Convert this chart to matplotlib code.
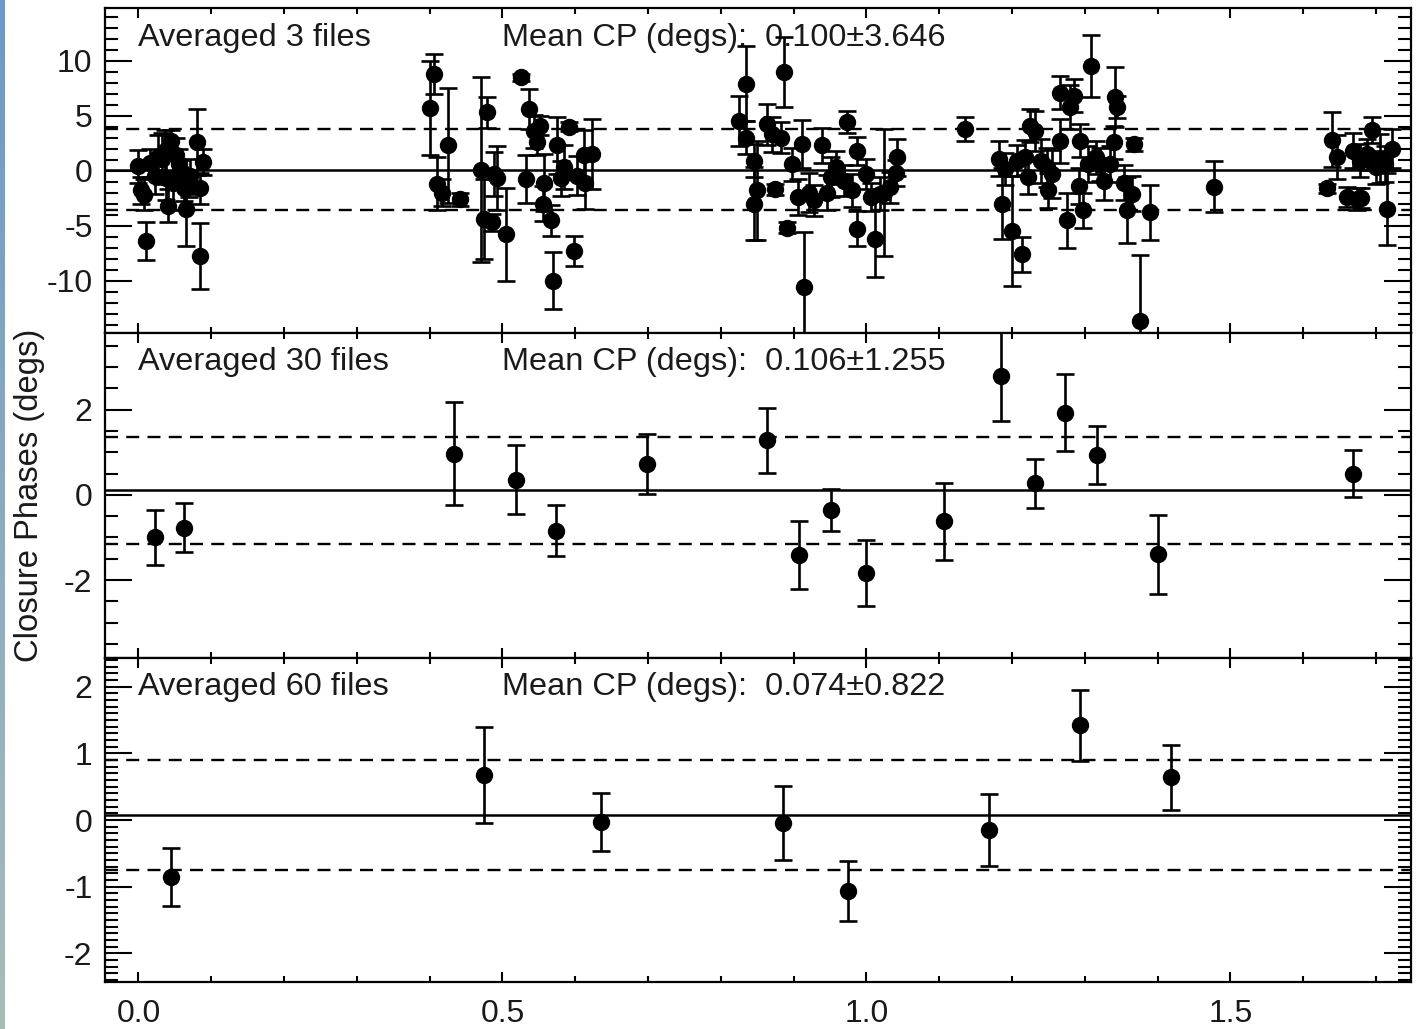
import numpy as np
import matplotlib
matplotlib.use("Agg")
import matplotlib.pyplot as plt
from matplotlib.ticker import MultipleLocator, FormatStrFormatter

plt.rcParams['font.family'] = ['Liberation Sans', 'DejaVu Sans']
plt.rcParams['axes.unicode_minus'] = False

# ---- closure phases, averaged over 3 files ----
x3 = [0.000, 0.004, 0.008, 0.011, 0.016, 0.022, 0.027, 0.032, 0.036, 0.038, 0.040, 0.044,
      0.047, 0.051, 0.055, 0.058, 0.062, 0.065, 0.069, 0.071, 0.080, 0.084, 0.089, 0.085,
      0.406, 0.401, 0.425, 0.410, 0.417, 0.442, 0.470, 0.479, 0.488, 0.474, 0.493, 0.505,
      0.486, 0.525, 0.536, 0.532, 0.543, 0.552, 0.548, 0.557, 0.556, 0.566, 0.569, 0.575,
      0.592, 0.584, 0.598, 0.580, 0.612, 0.623, 0.614, 0.603,
      0.834, 0.887, 0.825, 0.834, 0.845, 0.850, 0.845, 0.864, 0.870, 0.882, 0.875, 0.891,
      0.898, 0.911, 0.914, 0.906, 0.921, 0.928, 0.939, 0.951, 0.958, 0.946, 0.973, 0.969,
      0.987, 0.980, 0.987, 1.000, 1.012, 1.024, 1.033, 1.042, 1.018, 1.006, 1.040,
      1.135,
      1.182, 1.186, 1.200, 1.214, 1.190, 1.207, 1.218, 1.225, 1.222, 1.232, 1.240, 1.248,
      1.255, 1.250, 1.266, 1.266, 1.275, 1.280, 1.285, 1.294, 1.292, 1.298, 1.308, 1.304,
      1.315, 1.326, 1.321, 1.340, 1.342, 1.344, 1.335, 1.354, 1.365, 1.358, 1.367, 1.376,
      1.390, 1.477,
      1.639, 1.632, 1.647, 1.695, 1.660, 1.674, 1.680, 1.669, 1.678, 1.688, 1.706, 1.715,
      1.722, 1.712, 1.700]
y3 = [0.4, -1.8, -2.2, -6.4, 0.7, -0.5, 1.2, 1.1, 1.8, -0.7, -3.2, 2.7,
      -1.1, 1.4, 0.6, 0.0, -1.6, -3.5, -1.4, -0.5, 2.6, -7.8, 0.8, -1.6,
      8.8, 5.7, 2.3, -1.2, -2.0, -2.6, 0.1, 5.3, -0.3, -4.4, -0.7, -5.8,
      -4.7, 8.5, 5.6, -0.75, 3.6, 4.1, 2.6, -1.1, -3.0, -4.5, -10.0, 2.3,
      4.0, 0.3, -7.3, -0.7, 1.4, 1.5, -1.1, -0.45,
      7.9, 9.0, 4.5, 3.0, 0.9, -1.8, -3.0, 4.2, 3.3, 3.0, -1.7, -5.2,
      0.6, 2.4, -10.6, -2.4, -2.0, -2.7, 2.3, -0.6, 0.3, -2.0, 4.4, -0.9,
      1.8, -1.8, -5.3, -0.3, -6.2, -2.0, -1.5, 1.2, -2.1, -2.4, -0.2,
      3.8,
      1.1, -3.0, -5.5, -7.6, 0.15, 0.9, 1.2, 4.1, -0.6, 3.6, 0.9, 0.3,
      -0.3, -1.8, 7.1, 2.7, -4.5, 5.8, 6.8, 2.7, -1.4, -3.6, 9.5, 0.6,
      1.2, -0.9, 0.6, 2.6, 6.7, 5.8, 0.6, -1.1, -2.1, -3.6, 2.4, -13.7,
      -3.8, -1.45,
      2.8, -1.6, 1.2, 3.7, -2.4, -2.6, -2.5, 1.8, 0.9, 1.5, 1.1, -3.5,
      2.0, 0.6, 0.3]
e3 = [1.5, 1.2, 1.4, 1.7, 1.3, 1.6, 2.0, 2.3, 1.9, 2.0, 1.5, 1.0,
      2.5, 1.6, 1.4, 1.0, 1.2, 3.4, 1.0, 1.6, 3.0, 3.0, 1.2, 1.4,
      1.8, 4.3, 5.2, 2.4, 1.2, 0.6, 8.4, 1.4, 2.0, 3.6, 2.9, 4.2,
      0.8, 0.3, 1.8, 2.2, 1.5, 0.9, 1.2, 2.6, 1.6, 1.4, 2.6, 2.6,
      0.4, 2.0, 1.4, 1.6, 2.3, 3.2, 2.4, 1.8,
      3.4, 3.2, 2.3, 1.5, 1.5, 4.5, 3.3, 1.9, 1.6, 1.4, 0.5, 0.5,
      1.5, 2.2, 5.0, 1.6, 1.8, 1.4, 1.6, 1.8, 1.5, 1.6, 1.0, 1.4,
      1.3, 1.5, 1.6, 1.4, 3.5, 5.8, 1.4, 1.7, 1.5, 1.3, 1.2,
      1.1,
      1.6, 3.2, 5.0, 1.6, 1.5, 1.4, 1.6, 1.5, 1.5, 1.8, 2.0, 1.8,
      2.2, 1.6, 1.5, 2.0, 2.5, 2.0, 1.5, 1.5, 1.6, 1.6, 2.8, 1.6,
      1.5, 1.8, 1.5, 1.5, 2.7, 1.0, 1.6, 1.6, 1.6, 3.0, 0.6, 6.0,
      2.5, 2.35,
      2.5, 0.4, 2.0, 1.2, 0.9, 1.0, 0.9, 1.6, 1.5, 1.4, 2.2, 3.3,
      1.8, 1.6, 1.5]

# ---- averaged over 30 files ----
x30 = [0.022, 0.062, 0.433, 0.519, 0.574, 0.698, 0.863, 0.907, 0.951, 1.000,
       1.106, 1.185, 1.231, 1.273, 1.317, 1.400, 1.669]
y30 = [-1.00, -0.77, 0.97, 0.36, -0.84, 0.72, 1.28, -1.42, -0.36, -1.83,
       -0.62, 2.78, 0.27, 1.93, 0.93, -1.40, 0.50]
e30 = [0.64, 0.57, 1.20, 0.80, 0.60, 0.70, 0.77, 0.80, 0.49, 0.77,
       0.90, 1.05, 0.58, 0.90, 0.68, 0.92, 0.56]

# ---- averaged over 60 files ----
x60 = [0.044, 0.475, 0.636, 0.885, 0.975, 1.168, 1.294, 1.418]
y60 = [-0.855, 0.675, -0.03, -0.045, -1.065, -0.15, 1.42, 0.64]
e60 = [0.435, 0.72, 0.44, 0.55, 0.45, 0.54, 0.53, 0.49]

n_files = [3, 30, 60]
mean_cp = [0.100, 0.106, 0.074]
std_cp = [3.646, 1.255, 0.822]
y_limits = [(-14.77, 14.77), (-3.83, 3.80), (-2.43, 2.43)]
y_major = [5, 2, 1]
y_minor = [1, 0.5, 0.1]
x_limits = (-0.046, 1.748)

W, H = 1419, 1029
fig = plt.figure(figsize=(W / 100, H / 100), dpi=100)
fig.patch.set_facecolor('white')

# slide-background strip at the left edge
strip = fig.add_axes([0, 0, 5 / W, 1])
grad = np.linspace(0, 1, 256)[:, None, None]
top_c = np.array([0.42, 0.60, 0.80])
bot_c = np.array([0.66, 0.74, 0.72])
strip.imshow(top_c * (1 - grad) + bot_c * grad, aspect='auto', extent=(0, 1, 0, 1))
strip.set_axis_off()

left, right = 105 / W, 1411 / W
edges = [8.3, 333, 658, 982]
txt_col = '#1a1a1a'
fs = 23.4

datasets = [(x3, y3, e3), (x30, y30, e30), (x60, y60, e60)]
for i, (xs, ys, es) in enumerate(datasets):
    top_px, bot_px = edges[i], edges[i + 1]
    ax = fig.add_axes([left, 1 - bot_px / H, right - left, (bot_px - top_px) / H])
    ax.set_xlim(*x_limits)
    ax.set_ylim(*y_limits[i])

    ax.axhline(mean_cp[i], color='k', lw=1.8, zorder=2)
    for s in (1, -1):
        ax.axhline(mean_cp[i] + s * std_cp[i], color='k', lw=1.7,
                   linestyle=(0, (5.5, 3.5)), zorder=2)

    ax.errorbar(xs, ys, yerr=es, fmt='o', color='k', ms=11.5, elinewidth=1.9,
                capsize=6.8, capthick=1.9, zorder=3)

    ax.text(0.0, 0.91, f'Averaged {n_files[i]} files', transform=ax.get_xaxis_transform(),
            fontsize=fs, color=txt_col, va='center', ha='left', zorder=1)
    ax.text(0.5, 0.91, f'Mean CP (degs):  {mean_cp[i]:.3f}\u00b1{std_cp[i]:.3f}',
            transform=ax.get_xaxis_transform(), fontsize=fs, color=txt_col,
            va='center', ha='left', zorder=1)

    ax.xaxis.set_major_locator(MultipleLocator(0.5))
    ax.xaxis.set_minor_locator(MultipleLocator(0.1))
    ax.yaxis.set_major_locator(MultipleLocator(y_major[i]))
    ax.yaxis.set_minor_locator(MultipleLocator(y_minor[i]))
    ax.yaxis.set_major_formatter(FormatStrFormatter('%d'))
    ax.xaxis.set_major_formatter(FormatStrFormatter('%.1f'))

    ax.tick_params(which='both', direction='in', top=True, right=True, width=1.5,
                   colors='k', labelcolor=txt_col, labelsize=fs - 0.4)
    ax.xaxis.set_tick_params(which='major', length=7.5, pad=12)
    ax.xaxis.set_tick_params(which='minor', length=4)
    ax.yaxis.set_tick_params(which='major', length=19.5, pad=9)
    ax.yaxis.set_tick_params(which='minor', length=9.5)
    if i < 2:
        ax.tick_params(axis='x', labelbottom=False)
    for sp in ax.spines.values():
        sp.set_linewidth(1.6)

fig.text(30 / W, 1 - 495 / H, 'Closure Phases (degs)', rotation=90, fontsize=fs + 0.2,
         color=txt_col, ha='center', va='center')

fig.savefig('out.png', dpi=100, facecolor='white')
